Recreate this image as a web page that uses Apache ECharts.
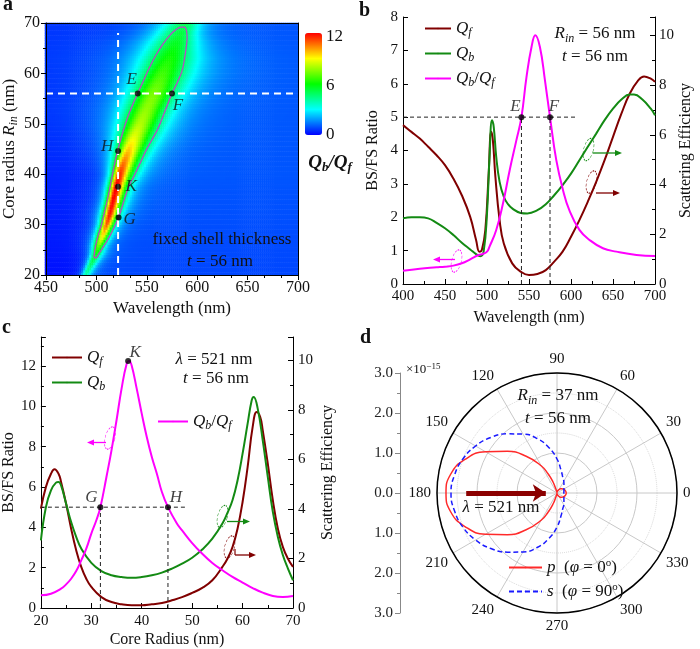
<!DOCTYPE html>
<html><head><meta charset="utf-8">
<script src="https://cdn.jsdelivr.net/npm/echarts@6/dist/echarts.min.js"></script>
<style>html,body{margin:0;padding:0;background:#fff}#c{width:700px;height:649px}</style>
</head><body><div id="c"></div>
<script>
const FF = '"Liberation Serif","Times New Roman",serif';

// ---------- Panel a : Qb/Qf map (ridge) ----------
const ridgeR      = [20, 22, 24, 26, 28, 30, 32, 35, 37.5, 40, 42.5, 45, 47.5, 50, 53, 56, 60, 63, 66, 68, 70];
const ridgeCenter = [490, 495, 500, 503.5, 507.5, 511, 514, 517.5, 520.5, 523.5, 528, 533, 538, 544, 550.5, 557.5, 566, 573, 579.5, 584, 589];
const ridgePeak   = [4.0, 4.7, 5.6, 7.5, 9.5, 11.0, 11.8, 12.15, 12.25, 11.6, 10.6, 9.6, 8.7, 8.1, 7.7, 7.45, 6.7, 6.2, 5.65, 5.3, 4.95];
const ridgeWidthL = [4.5, 5, 6, 7, 7.3, 7, 7.7, 7.5, 8, 8.3, 11.2, 14.8, 18.4, 22.8, 25.8, 28, 30.6, 33.6, 33, 30, 28];
const ridgeWidthR = [6.5, 7, 8, 7.3, 7.7, 8.2, 9.3, 10.6, 11.5, 14.6, 16.9, 19.6, 23, 24.9, 26.5, 28.6, 32, 30.9, 25, 20, 18];
const bgLeft      = [0.2, 0.22, 0.25, 0.28, 0.3, 0.32, 0.34, 0.37, 0.4, 0.42, 0.45, 0.48, 0.5, 0.52, 0.55, 0.55, 0.58, 0.6, 0.6, 0.6, 0.6];
const bgRight     = [0.85, 0.85, 0.87, 0.88, 0.9, 0.92, 0.94, 0.96, 0.98, 1.0, 1.0, 1.0, 1.0, 1.0, 1.0, 1.0, 1.0, 1.0, 1.0, 1.0, 1.0];
// contour Qb/Qf = 5
const contourLam = [497.5, 498.5, 500, 502, 505, 508, 511, 514, 517.5, 521, 526, 531, 536, 541, 547, 553, 559, 566, 573, 579, 584, 587.5, 589.5, 590, 589, 587.5, 585, 580.5, 575, 568, 561, 555, 549, 543, 537.5, 532, 527, 522, 516.5, 511, 506, 502.7, 499.5, 497.5];
const contourR   = [23.5, 25, 26.5, 28, 30, 32.5, 35, 38, 41.5, 44.6, 48.2, 51.3, 53.8, 56, 58.7, 61.3, 63.6, 65.8, 67.6, 68.7, 69.2, 69.2, 68.4, 67, 65, 63, 60.5, 58.3, 56, 52.5, 49, 46.8, 44.6, 42, 39.7, 37.5, 34.5, 31.4, 29, 26.9, 25.3, 24.3, 23.4, 23.5];
const pointsA = [['E', 541, 56], ['F', 575, 56], ['H', 521.5, 44.6], ['K', 521.5, 37.5], ['G', 522, 31.4]];

// ---------- Panel b : R_in = 56 nm ----------
const lamBQf = [400,410,420,430,440,450,460,470,480,487,491,494,498,502,505,507,510,515,520,530,540,550,560,570,580,590,600,610,620,630,640,650,660,670,680,687,695,700];
const qfB    = [6.39,6.12,5.85,5.52,5.18,4.78,4.24,3.57,2.70,1.77,1.30,1.39,2.17,4.44,6.12,5.78,4.31,2.57,1.63,0.83,0.50,0.36,0.40,0.56,0.90,1.30,1.90,2.57,3.31,4.11,4.98,5.92,6.85,7.66,8.19,8.35,8.26,8.13];
const lamBQb = [400,410,420,430,440,450,460,470,480,487,492,496,500,503,506,508,511,515,520,525,530,540,548,560,570,580,590,600,610,620,630,640,650,660,670,675,685,695,700];
const qbB    = [2.64,2.68,2.68,2.64,2.46,2.24,1.97,1.66,1.39,1.20,1.12,1.30,2.84,5.11,6.59,6.32,5.11,4.11,3.51,3.21,3.04,2.86,2.84,2.97,3.21,3.57,3.98,4.44,4.98,5.52,6.05,6.59,7.05,7.42,7.62,7.62,7.42,7.05,6.79];
const lamBRatio = [400,420,440,450,460,470,480,490,495,500,503,511,519,527,535,541,547,553,557.5,563,569,575,582.5,590.5,598,610,622,638,654,678,700];
const ratioB    = [0.40,0.46,0.50,0.52,0.55,0.62,0.74,0.87,0.90,0.97,1.12,1.62,2.41,3.41,4.31,5.0,6.2,7.1,7.45,7.1,6.1,5.0,3.71,2.81,2.21,1.62,1.32,1.07,0.97,0.87,0.84];
const pointsB = [['E', 541, 5], ['F', 575, 5]];

// ---------- Panel c : lambda = 521 nm ----------
const rCRatio = [20,22,24,25,26,27,28,29,30,31,31.8,33,34,35,36,37,37.5,38,39,40,41,42,43,44,45.2,47,48,50,52,54,56,58,60,62,64,66,68,70];
const ratioC  = [0.63,0.71,0.96,1.17,1.45,1.83,2.36,2.94,3.69,4.35,5.0,6.5,7.82,9.31,10.88,12.1,12.25,12.03,10.88,9.64,8.48,7.49,6.66,5.75,5.0,4.18,3.85,3.22,2.69,2.23,1.87,1.54,1.26,0.99,0.76,0.60,0.55,0.60];
const rCQf = [20,21,22,22.7,23.5,24,25,26,27,28,29,30,32,34,36,38,40,42,44,46,48,50,52,54,56,57,58,59,60,61,62,62.8,63.5,64,65,66,67,68,69,70];
const qfC  = [4.01,4.89,5.42,5.60,5.42,5.09,4.21,3.20,2.33,1.66,1.18,0.85,0.44,0.24,0.15,0.11,0.11,0.15,0.20,0.31,0.44,0.61,0.81,1.12,1.66,1.99,2.46,3.20,4.28,5.69,7.31,7.91,7.71,7.17,5.83,4.35,3.20,2.46,1.99,1.66];
const rCQb = [20,21,22,23,23.5,24,25,26,27,28,30,32,34,36,38,40,42,44,46,48,50,52,54,56,57,58,59,60,61,61.8,62.2,63,64,65,66,67,68,69,70];
const qbC  = [2.73,4.08,4.75,5.06,5.09,4.95,4.21,3.47,2.87,2.40,1.82,1.49,1.32,1.25,1.22,1.25,1.32,1.43,1.59,1.79,2.03,2.36,2.80,3.41,3.84,4.35,5.15,6.23,7.44,8.38,8.52,8.05,6.77,5.29,3.88,2.87,2.13,1.59,1.12];
const pointsC = [['G', 31.8, 5], ['H', 45.2, 5], ['K', 37.3, 12.25]];

// ---------- Panel d : far-field patterns (x1e-15) ----------
const angD = [0,10,20,30,40,50,60,70,80,90,95,100,105,110,115,120,130,140,150,160,170,180];
const pD   = [0.23,0.225,0.21,0.19,0.165,0.135,0.10,0.065,0.035,0.015,0.01,0.03,0.09,0.30,0.53,0.78,1.20,1.62,2.06,2.45,2.70,2.775];
const angS = [0,10,20,30,40,50,60,70,80,90,100,110,120,130,140,150,160,170,180];
const sD   = [0.17,0.175,0.185,0.20,0.225,0.27,0.34,0.42,0.58,0.85,1.15,1.45,1.70,1.93,2.16,2.35,2.50,2.60,2.65];

// ---------- build ----------
const zip = (xs, ys) => xs.map((x, i) => [x, ys[i]]);
function mirrorPolar(angs, rs) {
  const out = angs.map((a, i) => [rs[i], a]);
  for (let i = angs.length - 2; i >= 0; i--) out.push([rs[i], 360 - angs[i]]);
  return out;
}
function lerpRidge(arr, R) {
  if (R <= ridgeR[0]) return arr[0];
  for (let i = 0; i < ridgeR.length - 1; i++) {
    if (R <= ridgeR[i + 1]) { const t = (R - ridgeR[i]) / (ridgeR[i + 1] - ridgeR[i]); return arr[i] + t * (arr[i + 1] - arr[i]); }
  }
  return arr[arr.length - 1];
}
const lamCells = []; for (let l = 451; l < 700; l += 2) lamCells.push(l);
const rCells = []; for (let r = 20.25; r < 70; r += 0.5) rCells.push(r);
const heatData = [];
rCells.forEach((R, yi) => {
  const c = lerpRidge(ridgeCenter, R), p = lerpRidge(ridgePeak, R);
  const wl = lerpRidge(ridgeWidthL, R), wr = lerpRidge(ridgeWidthR, R);
  const bl = lerpRidge(bgLeft, R), br = lerpRidge(bgRight, R);
  lamCells.forEach((L, xi) => {
    const d = L - c, left = d < 0;
    const bg = left ? bl : br, w = left ? wl : wr;
    const v = bg + (p - bg) * Math.pow(1 + (d / w) * (d / w), -1.5);
    heatData.push([xi, yi, +v.toFixed(3)]);
  });
});

const richBase = {
  i: {fontFamily: FF, fontStyle: 'italic', fontSize: 17, color: '#111'},
  n: {fontFamily: FF, fontSize: 17, color: '#111'},
  s: {fontFamily: FF, fontStyle: 'italic', fontSize: 12, color: '#111', padding: [9, 0, 0, 0]},
  sup: {fontFamily: FF, fontSize: 11, color: '#111', padding: [0, 0, 8, 0]}
};
const QF = '{i|Q}{s|f}', QB = '{i|Q}{s|b}', QR = '{i|Q}{s|b}{n|/}{i|Q}{s|f}';

const ax = (o) => Object.assign({
  type: 'value',
  axisLine: {show: true, onZero: false, lineStyle: {color: '#000', width: 1}},
  axisTick: {show: true, inside: true, length: 5, lineStyle: {color: '#000'}},
  minorTick: {show: true, splitNumber: 2, length: 3, lineStyle: {color: '#000'}},
  splitLine: {show: false},
  axisLabel: {fontFamily: FF, fontSize: 15, color: '#111', margin: 5},
  nameLocation: 'middle',
  nameTextStyle: {fontFamily: FF, fontSize: 16, color: '#111'}
}, o);

const CR = '#800000', CG = '#138a13', CM = '#ff00ff';
const lineS = (name, xi, yi, data, color, extra) => Object.assign({
  name, type: 'line', xAxisIndex: xi, yAxisIndex: yi, data, symbol: 'none', smooth: 0.45,
  lineStyle: {color, width: 2}, itemStyle: {color}, z: 3, silent: true
}, extra || {});
const dash = (xi, yi, data, color, w, type) => ({
  type: 'line', xAxisIndex: xi, yAxisIndex: yi, data, symbol: 'none', silent: true, z: 4,
  lineStyle: {color: color || '#222', width: w || 1, type: type || [4, 3]}
});
const labelOffsets = {
  a: {E: [-6, -14], F: [6, 12], H: [-11, -4], K: [13, 0], G: [11, 2]},
  b: {E: [-6, -11], F: [4, -11]},
  c: {G: [-9, -10], H: [8, -10], K: [7, -8]}
};
const pts = (panel, list, xi, yi) => ({
  type: 'scatter', xAxisIndex: xi, yAxisIndex: yi, symbolSize: 6, z: 6, silent: true,
  itemStyle: {color: '#000'},
  data: list.map(p => ({name: p[0], value: [p[1], p[2]],
    label: {show: true, position: 'inside', offset: labelOffsets[panel][p[0]], formatter: '{b}',
      fontFamily: FF, fontStyle: 'italic', fontSize: 17, color: '#111'}}))
});

function ellipse(cx, cy, color, rot) {
  return {type: 'circle', x: cx, y: cy, scaleX: 0.42, rotation: rot, shape: {cx: 0, cy: 0, r: 11.5},
    style: {fill: null, stroke: color, lineWidth: 1.2, lineDash: [3, 2]}, z: 20};
}
function arrow(x1, y1, x2, y2, color) {
  const dir = Math.sign(x2 - x1);
  return [
    {type: 'line', shape: {x1, y1, x2: x2 - dir * 4, y2}, style: {stroke: color, lineWidth: 1.3}, z: 20},
    {type: 'polygon', shape: {points: [[x2, y2], [x2 - dir * 7, y2 - 3], [x2 - dir * 7, y2 + 3]]}, style: {fill: color}, z: 20}
  ];
}
const txt = (x, y, text, extra) => ({type: 'text', x, y, z: 30,
  style: Object.assign({text, align: 'center', verticalAlign: 'middle', fontFamily: FF, fontSize: 17, fill: '#111', rich: richBase}, extra || {})});
const richW = {
  i: {fontFamily: FF, fontStyle: 'italic', fontSize: 17, color: '#fff'},
  n: {fontFamily: FF, fontSize: 17, color: '#fff'}
};
const richR = {
  i: {fontFamily: FF, fontStyle: 'italic', fontSize: 17, color: CR},
  n: {fontFamily: FF, fontSize: 17, color: CR}
};

const graphics = [
  txt(3, 5, 'a', {align: 'left', fontWeight: 'bold', fontSize: 20}),
  txt(359, 11, 'b', {align: 'left', fontWeight: 'bold', fontSize: 20}),
  txt(2, 328, 'c', {align: 'left', fontWeight: 'bold', fontSize: 20}),
  txt(360, 338, 'd', {align: 'left', fontWeight: 'bold', fontSize: 20}),
  // colorbar labels
  txt(326, 37, '12', {align: 'left'}),
  txt(326, 86, '6', {align: 'left'}),
  txt(326, 135, '0', {align: 'left'}),
  txt(330, 163, '{b|Q}{bs|b}{bn|/}{b|Q}{bs|f}', {rich: {
    b: {fontFamily: FF, fontStyle: 'italic', fontWeight: 'bold', fontSize: 19, color: '#111'},
    bn: {fontFamily: FF, fontStyle: 'italic', fontWeight: 'bold', fontSize: 19, color: '#111'},
    bs: {fontFamily: FF, fontStyle: 'italic', fontWeight: 'bold', fontSize: 13, color: '#111', padding: [10, 0, 0, 0]}}}),
  // panel a text
  txt(222, 240, '{n|fixed shell thickness}', {rich: richW}),
  txt(220, 262, '{i|t}{n| = 56 nm}', {rich: richW}),
  // panel b text
  txt(595, 34, '{i|R}{s|in}{n| = 56 nm}'),
  txt(595, 57, '{i|t}{n| = 56 nm}'),
  // panel c text
  txt(214, 360, '{i|λ}{n| = 521 nm}'),
  txt(216, 379, '{i|t}{n| = 56 nm}'),
  // panel d text
  txt(558, 396, '{i|R}{s|in}{n| = 37 nm}'),
  txt(558, 419, '{i|t}{n| = 56 nm}'),
  txt(501, 508, '{i|λ}{n| = 521 nm}', {rich: richR}),
  txt(406, 370, '{n|×10}{sup|−15}', {align: 'left', rich: {
    n: {fontFamily: FF, fontSize: 13, color: '#111'}, sup: {fontFamily: FF, fontSize: 9, color: '#111', padding: [0, 0, 7, 0]}}}),
  // axis markers panel b
  ellipse(456.5, 261, CM, -0.25), ...arrow(455, 259.5, 433, 259.5, CM),
  ellipse(588.5, 149.5, CG, -0.25), ...arrow(593, 153, 622, 153, CG),
  ellipse(591.5, 182, CR, -0.25), ...arrow(596, 193, 620, 193, CR),
  // panel c
  ellipse(110, 438, CM, -0.25), ...arrow(106, 442.5, 87, 442.5, CM),
  ellipse(222.5, 516.5, CG, -0.25), ...arrow(227, 521.5, 250, 521.5, CG),
  ellipse(229.5, 547, CR, -0.25),
  {type: 'line', shape: {x1: 235, y1: 549, x2: 235, y2: 555}, style: {stroke: CR, lineWidth: 1.2}, z: 20},
  ...arrow(235, 555, 256, 555, CR)
];

const option = {
  animation: false,
  textStyle: {fontFamily: FF},
  grid: [
    {left: 45, top: 23, width: 253, height: 252},
    {left: 45, top: 23, width: 253, height: 252},
    {left: 403, top: 17, width: 252, height: 267},
    {left: 40, top: 337, width: 253, height: 271},
    {left: 437, top: 373, width: 240, height: 240}
  ],
  xAxis: [
    {type: 'category', gridIndex: 0, data: lamCells.map(String), show: false, boundaryGap: true},
    ax({gridIndex: 1, min: 450, max: 700, interval: 50, position: 'bottom', z: 5,
      axisTick: {show: true, inside: false, length: 5, lineStyle: {color: '#000'}},
      minorTick: {show: true, splitNumber: 3, length: 3, lineStyle: {color: '#000'}},
      axisLabel: {fontFamily: FF, fontSize: 16, color: '#111', margin: 5},
      name: 'Wavelength (nm)', nameGap: 25, nameTextStyle: {fontFamily: FF, fontSize: 17, color: '#111'}}),
    {type: 'value', gridIndex: 1, min: 450, max: 700, position: 'top', z: 5,
      axisLine: {show: true, lineStyle: {color: '#000'}}, axisTick: {show: false}, axisLabel: {show: false}, splitLine: {show: false}},
    ax({gridIndex: 2, min: 400, max: 700, interval: 50, name: 'Wavelength (nm)', nameGap: 26}),
    ax({gridIndex: 3, min: 20, max: 70, interval: 10, name: 'Core Radius (nm)', nameGap: 24, axisLabel: {fontFamily: FF, fontSize: 15, color: '#111', margin: 6}}),
    {type: 'value', gridIndex: 4, min: -3, max: 3, show: false}
  ],
  yAxis: [
    {type: 'category', gridIndex: 0, data: rCells.map(String), show: false, boundaryGap: true},
    ax({gridIndex: 1, min: 20, max: 70, interval: 10, position: 'left', z: 5,
      axisTick: {show: true, inside: false, length: 5, lineStyle: {color: '#000'}},
      minorTick: {show: true, splitNumber: 2, length: 3, lineStyle: {color: '#000'}},
      axisLabel: {fontFamily: FF, fontSize: 16, color: '#111', margin: 6},
      name: 'Core radius {i|R}{s|in} (nm)', nameGap: 26,
      nameTextStyle: {fontFamily: FF, fontSize: 17, color: '#111', rich: richBase}}),
    {type: 'value', gridIndex: 1, min: 20, max: 70, position: 'right', z: 5,
      axisLine: {show: true, lineStyle: {color: '#000'}}, axisTick: {show: false}, axisLabel: {show: false}, splitLine: {show: false}},
    ax({gridIndex: 2, min: 0, max: 8, interval: 1, position: 'left', minorTick: {show: false},
      name: 'BS/FS Ratio', nameGap: 22}),
    ax({gridIndex: 2, min: 0, max: 10.74, interval: 2, position: 'right',
      axisLabel: {fontFamily: FF, fontSize: 15, color: '#111', margin: 4, showMaxLabel: false},
      name: 'Scattering Efficiency', nameGap: 17}),
    ax({gridIndex: 3, min: 0, max: 13.44, interval: 2, position: 'left',
      axisLabel: {fontFamily: FF, fontSize: 15, color: '#111', margin: 5, showMaxLabel: false},
      name: 'BS/FS Ratio', nameGap: 23}),
    ax({gridIndex: 3, min: 0, max: 10.94, interval: 2, position: 'right',
      axisLabel: {fontFamily: FF, fontSize: 15, color: '#111', margin: 5, showMaxLabel: false},
      name: 'Scattering Efficiency', nameGap: 27}),
    ax({gridIndex: 4, min: -3, max: 3, interval: 1, position: 'left', offset: 37,
      axisLine: {show: true, onZero: false, lineStyle: {color: '#888', width: 1}},
      axisTick: {show: true, inside: false, length: 5, lineStyle: {color: '#888'}},
      minorTick: {show: true, splitNumber: 2, length: 3, lineStyle: {color: '#888'}},
      axisLabel: {fontFamily: FF, fontSize: 15, color: '#222', margin: 7, formatter: v => Math.abs(v).toFixed(1)}})
  ],
  polar: {center: [557, 493], radius: 120},
  angleAxis: {type: 'value', min: 0, max: 360, interval: 30, startAngle: 0, clockwise: false,
    axisLine: {show: true, lineStyle: {color: '#000', width: 1.5}}, axisTick: {show: false},
    axisLabel: {fontFamily: FF, fontSize: 15, color: '#111', margin: 6, formatter: v => (v === 360 ? '' : String(v))},
    splitLine: {show: true, lineStyle: {color: '#c8c8c8', width: 1}}, z: 1},
  radiusAxis: {type: 'value', min: 0, max: 3, interval: 1,
    axisLine: {show: false}, axisTick: {show: false}, axisLabel: {show: false},
    splitLine: {show: true, lineStyle: {color: '#c8c8c8', width: 1}},
    minorTick: {show: false, splitNumber: 2},
    minorSplitLine: {show: true, lineStyle: {color: '#d4d4d4', width: 1, type: 'dotted'}}},
  visualMap: {type: 'continuous', seriesIndex: 0, min: 0, max: 12, show: true, calculable: false,
    orient: 'vertical', left: 305, top: 33, itemWidth: 17, itemHeight: 102, padding: 0, text: null,
    inRange: {color: ['#0000ff', '#00ffff', '#00ff00', '#ffff00', '#ff0000']}},
  legend: [
    {data: ['bQf', 'bQb', 'bR'], left: 419, top: 15, orient: 'vertical', itemWidth: 26, itemHeight: 2, itemGap: 6,
      formatter: n => ({bQf: QF, bQb: QB, bR: QR})[n], textStyle: {rich: richBase}, selectedMode: false},
    {data: ['cQf', 'cQb'], left: 46, top: 344, orient: 'vertical', itemWidth: 30, itemHeight: 2, itemGap: 6,
      formatter: n => ({cQf: QF, cQb: QB})[n], textStyle: {rich: richBase}, selectedMode: false},
    {data: ['cR'], left: 152, top: 408, itemWidth: 30, itemHeight: 2,
      formatter: () => QR, textStyle: {rich: richBase}, selectedMode: false},
    {data: ['p', 's'], left: 503, top: 553, orient: 'vertical', itemWidth: 33, itemHeight: 2, itemGap: 6,
      formatter: n => n === 'p' ? '{i|p}{n|  (}{i|φ}{n| = 0}{sup|o}{n|)}' : '{i|s}{n|  (}{i|φ}{n| = 90}{sup|o}{n|)}',
      textStyle: {rich: richBase}, selectedMode: false}
  ],
  series: [
    {type: 'heatmap', xAxisIndex: 0, yAxisIndex: 0, data: heatData, progressive: 0, z: 1, silent: true,
      emphasis: {disabled: true}, itemStyle: {borderWidth: 0}},
    {type: 'line', xAxisIndex: 1, yAxisIndex: 1, data: zip(contourLam, contourR), symbol: 'none', smooth: 0.4, silent: true, z: 3,
      lineStyle: {color: '#c040c8', width: 1.2}},
    dash(1, 1, [[521.5, 20], [521.5, 68]], '#ffffff', 2, [7, 5]),
    dash(1, 1, [[450, 56], [700, 56]], '#ffffff', 2, [7, 5]),
    pts('a', pointsA, 1, 1),
    // panel b
    lineS('bQf', 3, 4, zip(lamBQf, qfB), CR),
    lineS('bQb', 3, 4, zip(lamBQb, qbB), CG),
    lineS('bR', 3, 3, zip(lamBRatio, ratioB), CM),
    dash(3, 3, [[400, 5], [605, 5]]),
    dash(3, 3, [[541, 0], [541, 5]]),
    dash(3, 3, [[575, 0], [575, 5]]),
    pts('b', pointsB, 3, 3),
    // panel c
    lineS('cQf', 4, 6, zip(rCQf, qfC), CR),
    lineS('cQb', 4, 6, zip(rCQb, qbC), CG),
    lineS('cR', 4, 5, zip(rCRatio, ratioC), CM),
    dash(4, 5, [[20, 5], [48.7, 5]]),
    dash(4, 5, [[31.8, 0], [31.8, 5]]),
    dash(4, 5, [[45.2, 0], [45.2, 5]]),
    pts('c', pointsC, 4, 5),
    // panel d
    {name: 'p', type: 'line', coordinateSystem: 'polar', polarIndex: 0, data: mirrorPolar(angD, pD), symbol: 'none', smooth: 0.5,
      lineStyle: {color: '#ff2a2a', width: 1.5}, itemStyle: {color: '#ff2a2a'}, z: 4, silent: true},
    {name: 's', type: 'line', coordinateSystem: 'polar', polarIndex: 0, data: mirrorPolar(angS, sD), symbol: 'none', smooth: 0.5,
      lineStyle: {color: '#1a1aff', width: 1.5, type: [5, 3]}, itemStyle: {color: '#1a1aff'}, z: 4, silent: true},
    {type: 'line', xAxisIndex: 5, yAxisIndex: 7, data: [], silent: true, z: 6,
      markLine: {silent: true, symbol: ['none', 'arrow'], symbolSize: [13, 13], label: {show: false},
        lineStyle: {color: '#8b0000', width: 5, type: 'solid'},
        data: [[{coord: [-2.27, 0]}, {coord: [-0.28, 0]}]]}}
  ],
  graphic: {elements: graphics}
};
const chart = echarts.init(document.getElementById('c'), null, {renderer: 'canvas'});
chart.setOption(option);
</script></body></html>
